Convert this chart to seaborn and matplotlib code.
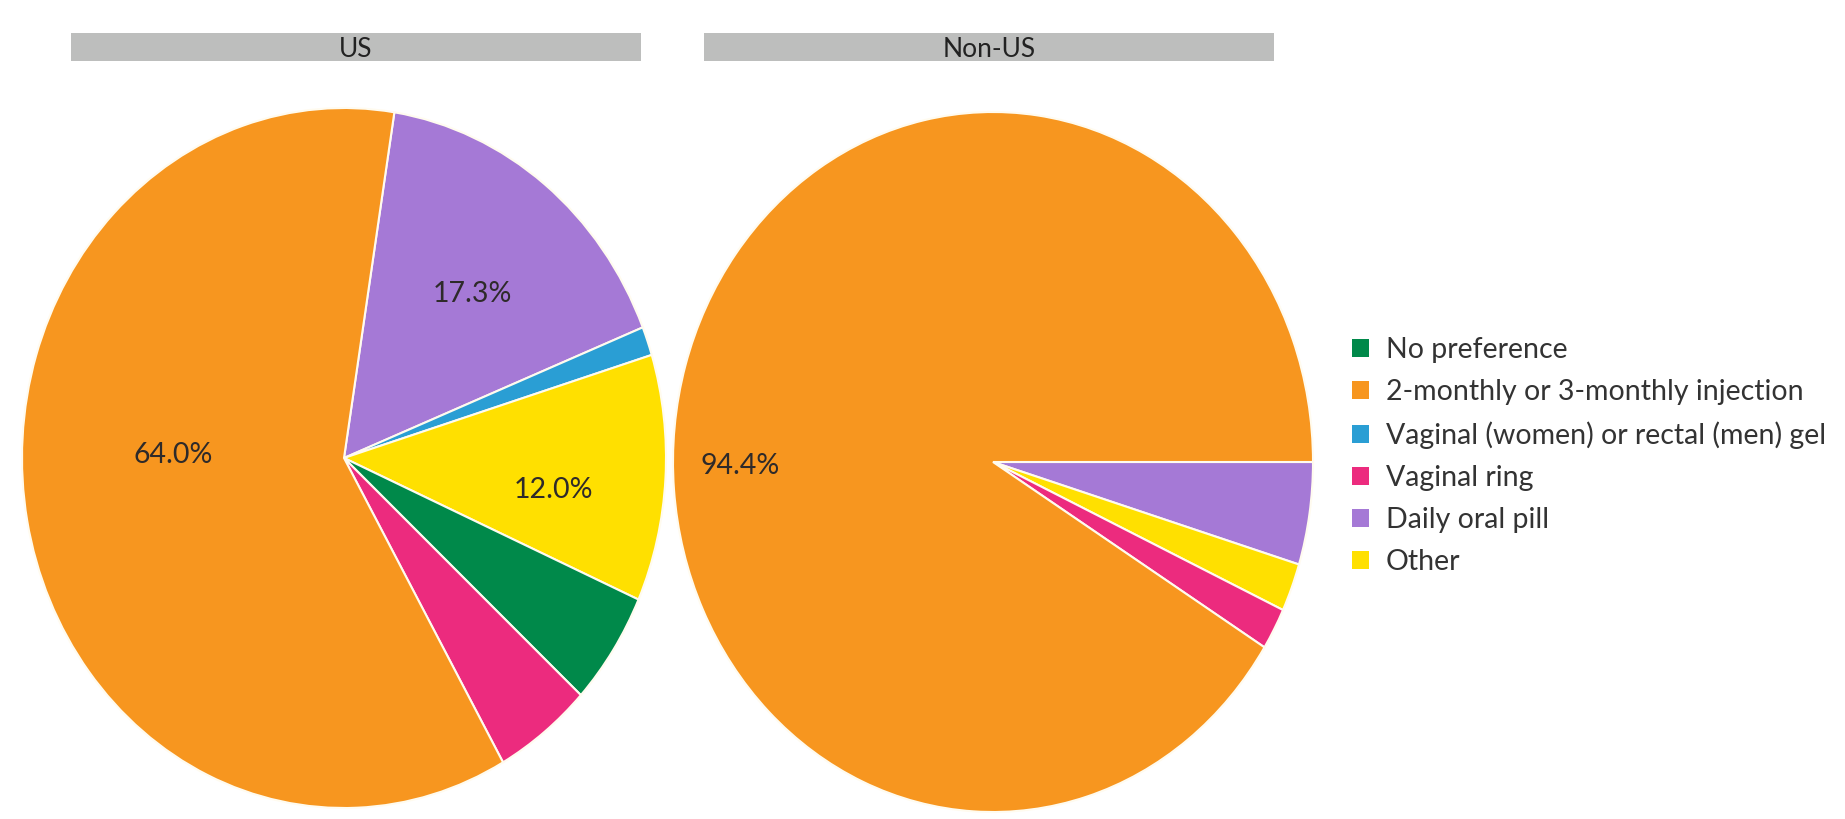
import seaborn as sns
from matplotlib import pyplot as plt
from matplotlib.patches import Patch

# legend order and colours
categories = ["No preference", "2-monthly or 3-monthly injection",
              "Vaginal (women) or rectal (men) gel", "Vaginal ring",
              "Daily oral pill", "Other"]
colors = ["#00894A", "#F7961F", "#2A9ED4", "#EC2B7E", "#A579D6", "#FFE000"]

# slices clockwise, as they sit in each pie
us_order = ["Daily oral pill", "Vaginal (women) or rectal (men) gel", "Other",
            "No preference", "Vaginal ring", "2-monthly or 3-monthly injection"]
us_values = [17.3, 1.4, 12.0, 5.5, 5.2, 64.0]

nonus_order = ["Daily oral pill", "Other", "Vaginal ring",
               "2-monthly or 3-monthly injection"]
nonus_values = [4.9, 2.3, 2.0, 94.4]

# where the percent labels sit, in pie units
us_label_pos = {"Daily oral pill": (0.40, 0.47), "Other": (0.65, -0.09),
                "2-monthly or 3-monthly injection": (-0.53, 0.01)}
nonus_label_pos = {"2-monthly or 3-monthly injection": (-0.79, -0.01)}

sns.set_theme(style="white")
plt.rcParams['font.family'] = ['Lato', 'DejaVu Sans']
palette = dict(zip(categories, sns.color_palette(colors)))

fig = plt.figure(figsize=(18.45, 8.19), dpi=100)
W, H = 1845, 819


def px_axes(x0, y0, x1, y1):
    return fig.add_axes([x0 / W, 1 - y1 / H, (x1 - x0) / W, (y1 - y0) / H])


def draw_pie(ax, order, values, start, label_pos):
    ax.pie(values, colors=[palette[c] for c in order], startangle=start,
           counterclock=False,
           wedgeprops=dict(edgecolor="#FFFBEF", linewidth=1.5))
    for cat, v in zip(order, values):
        if v >= 10:
            x, y = label_pos[cat]
            ax.text(x, y, f"{v:.1f}%", ha="center", va="center",
                    fontsize=20.5, color="#2E2A2A")
    ax.set_aspect("auto")
    ax.set_xlim(-1, 1)
    ax.set_ylim(-1, 1)
    ax.axis("off")


def strip(x0, x1, text):
    ax = px_axes(x0, 33, x1, 61)
    ax.set_facecolor("#BDBEBD")
    ax.set_xticks([])
    ax.set_yticks([])
    for s in ax.spines.values():
        s.set_visible(False)
    ax.text(0.5, 0.42, text, ha="center", va="center", fontsize=19,
            family=['Liberation Sans Narrow', 'Lato'],
            color="#222222", transform=ax.transAxes)


strip(71, 641, "US")
strip(704, 1274, "Non-US")

ax1 = px_axes(22, 108, 666, 808)
draw_pie(ax1, us_order, us_values, 81, us_label_pos)

ax2 = px_axes(673, 112, 1313, 812)
draw_pie(ax2, nonus_order, nonus_values, 0, nonus_label_pos)

handles = [Patch(facecolor=palette[c], edgecolor="none") for c in categories]
fig.legend(handles, categories, loc="center left",
           bbox_to_anchor=(1326 / W, 1 - 456 / H), frameon=False,
           fontsize=20.5, labelspacing=0.56, handlelength=0.6,
           handleheight=0.6, handletextpad=0.6, labelcolor="#333333")

fig.savefig("out.png", dpi=100, facecolor="white")
